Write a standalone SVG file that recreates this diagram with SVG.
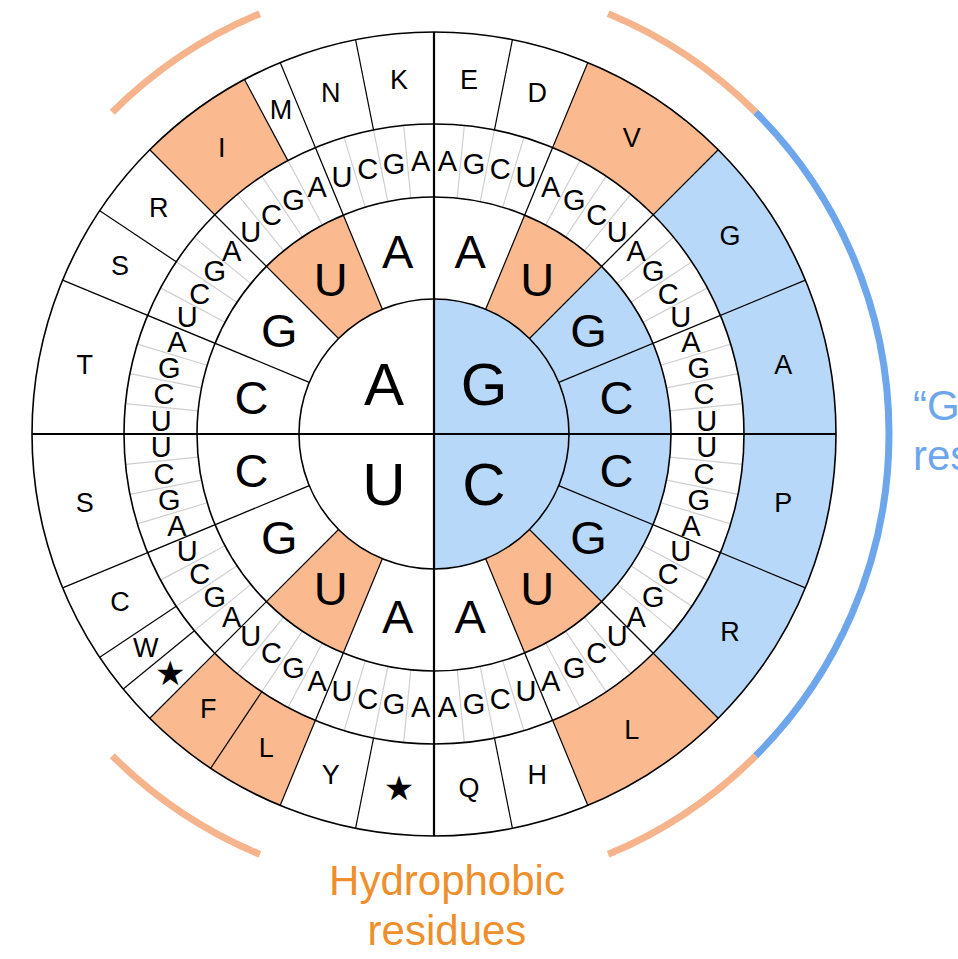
<svg xmlns="http://www.w3.org/2000/svg" width="958" height="959" viewBox="0 0 958 959">
<style>
text{font-family:"Liberation Sans",Arial,sans-serif;text-anchor:middle;dominant-baseline:central;fill:#000}
.c1{font-size:60px}.c2{font-size:47px}.t3{font-size:29px}.aa{font-size:27px}
.st{font-family:"DejaVu Sans",sans-serif;font-size:34px}
.ring{fill:none;stroke:#000;stroke-width:1.6}
.dash{fill:none}
.or{stroke:#FAB98E}.bl{stroke:#B8D8FA}
.arcO{fill:none;stroke:#F6B48C;stroke-width:7}.arcB{fill:none;stroke:#6EA6EC;stroke-width:7}
.ln{stroke:#000;stroke-width:1.2}
.lab{font-size:42px}
</style>
<rect width="958" height="959" fill="#fff"/>
<g id="outer-arcs">
<circle class="arcO" cx="434" cy="434" r="455" pathLength="360" stroke-dasharray="22.5 400" transform="rotate(-135 434 434)"/>
<circle class="arcO" cx="434" cy="434" r="455" pathLength="360" stroke-dasharray="22.5 400" transform="rotate(-67.5 434 434)"/>
<circle class="arcO" cx="434" cy="434" r="455" pathLength="360" stroke-dasharray="22.5 400" transform="rotate(45 434 434)"/>
<circle class="arcO" cx="434" cy="434" r="455" pathLength="360" stroke-dasharray="22.5 400" transform="rotate(112.5 434 434)"/>
<circle class="arcB" cx="434" cy="434" r="455" pathLength="360" stroke-dasharray="90 400" transform="rotate(-45 434 434)"/>
</g>
<g id="fills">
<circle cx="434" cy="434" r="402" fill="#fff"/>
<path d="M434,299 A135,135 0 0 1 434,569 Z" fill="#B8D8FA"/>
<circle class="dash bl" cx="434" cy="434" r="186" stroke-width="102" pathLength="360" stroke-dasharray="90 400" transform="rotate(-45 434 434)"/>
<circle class="dash or" cx="434" cy="434" r="186" stroke-width="102" pathLength="360" stroke-dasharray="22.5 400" transform="rotate(-67.5 434 434)"/>
<circle class="dash or" cx="434" cy="434" r="186" stroke-width="102" pathLength="360" stroke-dasharray="22.5 400" transform="rotate(45 434 434)"/>
<circle class="dash or" cx="434" cy="434" r="186" stroke-width="102" pathLength="360" stroke-dasharray="22.5 400" transform="rotate(112.5 434 434)"/>
<circle class="dash or" cx="434" cy="434" r="186" stroke-width="102" pathLength="360" stroke-dasharray="22.5 400" transform="rotate(225 434 434)"/>
<circle class="dash bl" cx="434" cy="434" r="356" stroke-width="92" pathLength="360" stroke-dasharray="90 400" transform="rotate(-45 434 434)"/>
<circle class="dash or" cx="434" cy="434" r="356" stroke-width="92" pathLength="360" stroke-dasharray="22.5 400" transform="rotate(-67.5 434 434)"/>
<circle class="dash or" cx="434" cy="434" r="356" stroke-width="92" pathLength="360" stroke-dasharray="22.5 400" transform="rotate(45 434 434)"/>
<circle class="dash or" cx="434" cy="434" r="356" stroke-width="92" pathLength="360" stroke-dasharray="22.5 400" transform="rotate(112.5 434 434)"/>
<circle class="dash or" cx="434" cy="434" r="356" stroke-width="92" pathLength="360" stroke-dasharray="16.875 400" transform="rotate(225 434 434)"/>
<circle class="dash" cx="434" cy="434" r="273.5" stroke="#cfcfcf" stroke-width="73" pathLength="360" stroke-dasharray="0.25 5.375" stroke-dashoffset="0.125"/>
</g>
<g id="connectors">
<circle class="ring" cx="434" cy="434" r="135"/>
<circle class="ring" cx="434" cy="434" r="237"/>
<circle class="ring" cx="434" cy="434" r="310"/>
<circle class="ring" cx="434" cy="434" r="402" stroke-width="2"/>
<line x1="32" y1="434" x2="836" y2="434" stroke="#000" stroke-width="2.2"/>
<line x1="434" y1="32" x2="434" y2="836" stroke="#000" stroke-width="2.2"/>
<g class="ln">
<line x1="569" y1="434" x2="836" y2="434" transform="rotate(22.5 434 434)"/>
<line x1="569" y1="434" x2="836" y2="434" transform="rotate(45 434 434)"/>
<line x1="569" y1="434" x2="836" y2="434" transform="rotate(67.5 434 434)"/>
<line x1="569" y1="434" x2="836" y2="434" transform="rotate(112.5 434 434)"/>
<line x1="569" y1="434" x2="836" y2="434" transform="rotate(135 434 434)"/>
<line x1="569" y1="434" x2="836" y2="434" transform="rotate(157.5 434 434)"/>
<line x1="569" y1="434" x2="836" y2="434" transform="rotate(202.5 434 434)"/>
<line x1="569" y1="434" x2="836" y2="434" transform="rotate(225 434 434)"/>
<line x1="569" y1="434" x2="836" y2="434" transform="rotate(247.5 434 434)"/>
<line x1="569" y1="434" x2="836" y2="434" transform="rotate(292.5 434 434)"/>
<line x1="569" y1="434" x2="836" y2="434" transform="rotate(315 434 434)"/>
<line x1="569" y1="434" x2="836" y2="434" transform="rotate(337.5 434 434)"/>
<line x1="744" y1="434" x2="836" y2="434" transform="rotate(-78.75 434 434)"/>
<line x1="744" y1="434" x2="836" y2="434" transform="rotate(78.75 434 434)"/>
<line x1="744" y1="434" x2="836" y2="434" transform="rotate(101.25 434 434)"/>
<line x1="744" y1="434" x2="836" y2="434" transform="rotate(123.75 434 434)"/>
<line x1="744" y1="434" x2="836" y2="434" transform="rotate(140.625 434 434)"/>
<line x1="744" y1="434" x2="836" y2="434" transform="rotate(146.25 434 434)"/>
<line x1="744" y1="434" x2="836" y2="434" transform="rotate(213.75 434 434)"/>
<line x1="744" y1="434" x2="836" y2="434" transform="rotate(241.875 434 434)"/>
<line x1="744" y1="434" x2="836" y2="434" transform="rotate(258.75 434 434)"/>
</g>
</g>
<g id="first-base">
<text class="c1" x="384" y="384">A</text>
<text class="c1" x="484" y="384">G</text>
<text class="c1" x="384" y="484">U</text>
<text class="c1" x="484" y="484">C</text>
</g>
<g id="second-base">
<g transform="rotate(11.25 434 434)"><text class="c2" x="620" y="434" transform="rotate(-11.25 620 434)">C</text></g>
<g transform="rotate(33.75 434 434)"><text class="c2" x="620" y="434" transform="rotate(-33.75 620 434)">G</text></g>
<g transform="rotate(56.25 434 434)"><text class="c2" x="620" y="434" transform="rotate(-56.25 620 434)">U</text></g>
<g transform="rotate(78.75 434 434)"><text class="c2" x="620" y="434" transform="rotate(-78.75 620 434)">A</text></g>
<g transform="rotate(101.25 434 434)"><text class="c2" x="620" y="434" transform="rotate(-101.25 620 434)">A</text></g>
<g transform="rotate(123.75 434 434)"><text class="c2" x="620" y="434" transform="rotate(-123.75 620 434)">U</text></g>
<g transform="rotate(146.25 434 434)"><text class="c2" x="620" y="434" transform="rotate(-146.25 620 434)">G</text></g>
<g transform="rotate(168.75 434 434)"><text class="c2" x="620" y="434" transform="rotate(-168.75 620 434)">C</text></g>
<g transform="rotate(191.25 434 434)"><text class="c2" x="620" y="434" transform="rotate(-191.25 620 434)">C</text></g>
<g transform="rotate(213.75 434 434)"><text class="c2" x="620" y="434" transform="rotate(-213.75 620 434)">G</text></g>
<g transform="rotate(236.25 434 434)"><text class="c2" x="620" y="434" transform="rotate(-236.25 620 434)">U</text></g>
<g transform="rotate(258.75 434 434)"><text class="c2" x="620" y="434" transform="rotate(-258.75 620 434)">A</text></g>
<g transform="rotate(281.25 434 434)"><text class="c2" x="620" y="434" transform="rotate(-281.25 620 434)">A</text></g>
<g transform="rotate(303.75 434 434)"><text class="c2" x="620" y="434" transform="rotate(-303.75 620 434)">U</text></g>
<g transform="rotate(326.25 434 434)"><text class="c2" x="620" y="434" transform="rotate(-326.25 620 434)">G</text></g>
<g transform="rotate(348.75 434 434)"><text class="c2" x="620" y="434" transform="rotate(-348.75 620 434)">C</text></g>
</g>
<g id="third-base">
<g transform="rotate(2.8125 434 434)"><text class="t3" x="707" y="434" transform="rotate(-2.8125 707 434)">U</text></g>
<g transform="rotate(8.4375 434 434)"><text class="t3" x="707" y="434" transform="rotate(-8.4375 707 434)">C</text></g>
<g transform="rotate(14.0625 434 434)"><text class="t3" x="707" y="434" transform="rotate(-14.0625 707 434)">G</text></g>
<g transform="rotate(19.6875 434 434)"><text class="t3" x="707" y="434" transform="rotate(-19.6875 707 434)">A</text></g>
<g transform="rotate(25.3125 434 434)"><text class="t3" x="707" y="434" transform="rotate(-25.3125 707 434)">U</text></g>
<g transform="rotate(30.9375 434 434)"><text class="t3" x="707" y="434" transform="rotate(-30.9375 707 434)">C</text></g>
<g transform="rotate(36.5625 434 434)"><text class="t3" x="707" y="434" transform="rotate(-36.5625 707 434)">G</text></g>
<g transform="rotate(42.1875 434 434)"><text class="t3" x="707" y="434" transform="rotate(-42.1875 707 434)">A</text></g>
<g transform="rotate(47.8125 434 434)"><text class="t3" x="707" y="434" transform="rotate(-47.8125 707 434)">U</text></g>
<g transform="rotate(53.4375 434 434)"><text class="t3" x="707" y="434" transform="rotate(-53.4375 707 434)">C</text></g>
<g transform="rotate(59.0625 434 434)"><text class="t3" x="707" y="434" transform="rotate(-59.0625 707 434)">G</text></g>
<g transform="rotate(64.6875 434 434)"><text class="t3" x="707" y="434" transform="rotate(-64.6875 707 434)">A</text></g>
<g transform="rotate(70.3125 434 434)"><text class="t3" x="707" y="434" transform="rotate(-70.3125 707 434)">U</text></g>
<g transform="rotate(75.9375 434 434)"><text class="t3" x="707" y="434" transform="rotate(-75.9375 707 434)">C</text></g>
<g transform="rotate(81.5625 434 434)"><text class="t3" x="707" y="434" transform="rotate(-81.5625 707 434)">G</text></g>
<g transform="rotate(87.1875 434 434)"><text class="t3" x="707" y="434" transform="rotate(-87.1875 707 434)">A</text></g>
<g transform="rotate(92.8125 434 434)"><text class="t3" x="707" y="434" transform="rotate(-92.8125 707 434)">A</text></g>
<g transform="rotate(98.4375 434 434)"><text class="t3" x="707" y="434" transform="rotate(-98.4375 707 434)">G</text></g>
<g transform="rotate(104.0625 434 434)"><text class="t3" x="707" y="434" transform="rotate(-104.0625 707 434)">C</text></g>
<g transform="rotate(109.6875 434 434)"><text class="t3" x="707" y="434" transform="rotate(-109.6875 707 434)">U</text></g>
<g transform="rotate(115.3125 434 434)"><text class="t3" x="707" y="434" transform="rotate(-115.3125 707 434)">A</text></g>
<g transform="rotate(120.9375 434 434)"><text class="t3" x="707" y="434" transform="rotate(-120.9375 707 434)">G</text></g>
<g transform="rotate(126.5625 434 434)"><text class="t3" x="707" y="434" transform="rotate(-126.5625 707 434)">C</text></g>
<g transform="rotate(132.1875 434 434)"><text class="t3" x="707" y="434" transform="rotate(-132.1875 707 434)">U</text></g>
<g transform="rotate(137.8125 434 434)"><text class="t3" x="707" y="434" transform="rotate(-137.8125 707 434)">A</text></g>
<g transform="rotate(143.4375 434 434)"><text class="t3" x="707" y="434" transform="rotate(-143.4375 707 434)">G</text></g>
<g transform="rotate(149.0625 434 434)"><text class="t3" x="707" y="434" transform="rotate(-149.0625 707 434)">C</text></g>
<g transform="rotate(154.6875 434 434)"><text class="t3" x="707" y="434" transform="rotate(-154.6875 707 434)">U</text></g>
<g transform="rotate(160.3125 434 434)"><text class="t3" x="707" y="434" transform="rotate(-160.3125 707 434)">A</text></g>
<g transform="rotate(165.9375 434 434)"><text class="t3" x="707" y="434" transform="rotate(-165.9375 707 434)">G</text></g>
<g transform="rotate(171.5625 434 434)"><text class="t3" x="707" y="434" transform="rotate(-171.5625 707 434)">C</text></g>
<g transform="rotate(177.1875 434 434)"><text class="t3" x="707" y="434" transform="rotate(-177.1875 707 434)">U</text></g>
<g transform="rotate(182.8125 434 434)"><text class="t3" x="707" y="434" transform="rotate(-182.8125 707 434)">U</text></g>
<g transform="rotate(188.4375 434 434)"><text class="t3" x="707" y="434" transform="rotate(-188.4375 707 434)">C</text></g>
<g transform="rotate(194.0625 434 434)"><text class="t3" x="707" y="434" transform="rotate(-194.0625 707 434)">G</text></g>
<g transform="rotate(199.6875 434 434)"><text class="t3" x="707" y="434" transform="rotate(-199.6875 707 434)">A</text></g>
<g transform="rotate(205.3125 434 434)"><text class="t3" x="707" y="434" transform="rotate(-205.3125 707 434)">U</text></g>
<g transform="rotate(210.9375 434 434)"><text class="t3" x="707" y="434" transform="rotate(-210.9375 707 434)">C</text></g>
<g transform="rotate(216.5625 434 434)"><text class="t3" x="707" y="434" transform="rotate(-216.5625 707 434)">G</text></g>
<g transform="rotate(222.1875 434 434)"><text class="t3" x="707" y="434" transform="rotate(-222.1875 707 434)">A</text></g>
<g transform="rotate(227.8125 434 434)"><text class="t3" x="707" y="434" transform="rotate(-227.8125 707 434)">U</text></g>
<g transform="rotate(233.4375 434 434)"><text class="t3" x="707" y="434" transform="rotate(-233.4375 707 434)">C</text></g>
<g transform="rotate(239.0625 434 434)"><text class="t3" x="707" y="434" transform="rotate(-239.0625 707 434)">G</text></g>
<g transform="rotate(244.6875 434 434)"><text class="t3" x="707" y="434" transform="rotate(-244.6875 707 434)">A</text></g>
<g transform="rotate(250.3125 434 434)"><text class="t3" x="707" y="434" transform="rotate(-250.3125 707 434)">U</text></g>
<g transform="rotate(255.9375 434 434)"><text class="t3" x="707" y="434" transform="rotate(-255.9375 707 434)">C</text></g>
<g transform="rotate(261.5625 434 434)"><text class="t3" x="707" y="434" transform="rotate(-261.5625 707 434)">G</text></g>
<g transform="rotate(267.1875 434 434)"><text class="t3" x="707" y="434" transform="rotate(-267.1875 707 434)">A</text></g>
<g transform="rotate(272.8125 434 434)"><text class="t3" x="707" y="434" transform="rotate(-272.8125 707 434)">A</text></g>
<g transform="rotate(278.4375 434 434)"><text class="t3" x="707" y="434" transform="rotate(-278.4375 707 434)">G</text></g>
<g transform="rotate(284.0625 434 434)"><text class="t3" x="707" y="434" transform="rotate(-284.0625 707 434)">C</text></g>
<g transform="rotate(289.6875 434 434)"><text class="t3" x="707" y="434" transform="rotate(-289.6875 707 434)">U</text></g>
<g transform="rotate(295.3125 434 434)"><text class="t3" x="707" y="434" transform="rotate(-295.3125 707 434)">A</text></g>
<g transform="rotate(300.9375 434 434)"><text class="t3" x="707" y="434" transform="rotate(-300.9375 707 434)">G</text></g>
<g transform="rotate(306.5625 434 434)"><text class="t3" x="707" y="434" transform="rotate(-306.5625 707 434)">C</text></g>
<g transform="rotate(312.1875 434 434)"><text class="t3" x="707" y="434" transform="rotate(-312.1875 707 434)">U</text></g>
<g transform="rotate(317.8125 434 434)"><text class="t3" x="707" y="434" transform="rotate(-317.8125 707 434)">A</text></g>
<g transform="rotate(323.4375 434 434)"><text class="t3" x="707" y="434" transform="rotate(-323.4375 707 434)">G</text></g>
<g transform="rotate(329.0625 434 434)"><text class="t3" x="707" y="434" transform="rotate(-329.0625 707 434)">C</text></g>
<g transform="rotate(334.6875 434 434)"><text class="t3" x="707" y="434" transform="rotate(-334.6875 707 434)">U</text></g>
<g transform="rotate(340.3125 434 434)"><text class="t3" x="707" y="434" transform="rotate(-340.3125 707 434)">A</text></g>
<g transform="rotate(345.9375 434 434)"><text class="t3" x="707" y="434" transform="rotate(-345.9375 707 434)">G</text></g>
<g transform="rotate(351.5625 434 434)"><text class="t3" x="707" y="434" transform="rotate(-351.5625 707 434)">C</text></g>
<g transform="rotate(357.1875 434 434)"><text class="t3" x="707" y="434" transform="rotate(-357.1875 707 434)">U</text></g>
</g>
<g id="amino-acids">
<g transform="rotate(-84.375 434 434)"><text class="aa" x="790" y="434" transform="rotate(84.375 790 434)">E</text></g>
<g transform="rotate(-73.125 434 434)"><text class="aa" x="790" y="434" transform="rotate(73.125 790 434)">D</text></g>
<g transform="rotate(-56.25 434 434)"><text class="aa" x="790" y="434" transform="rotate(56.25 790 434)">V</text></g>
<g transform="rotate(-33.75 434 434)"><text class="aa" x="790" y="434" transform="rotate(33.75 790 434)">G</text></g>
<g transform="rotate(-11.25 434 434)"><text class="aa" x="790" y="434" transform="rotate(11.25 790 434)">A</text></g>
<g transform="rotate(11.25 434 434)"><text class="aa" x="790" y="434" transform="rotate(-11.25 790 434)">P</text></g>
<g transform="rotate(33.75 434 434)"><text class="aa" x="790" y="434" transform="rotate(-33.75 790 434)">R</text></g>
<g transform="rotate(56.25 434 434)"><text class="aa" x="790" y="434" transform="rotate(-56.25 790 434)">L</text></g>
<g transform="rotate(73.125 434 434)"><text class="aa" x="790" y="434" transform="rotate(-73.125 790 434)">H</text></g>
<g transform="rotate(84.375 434 434)"><text class="aa" x="790" y="434" transform="rotate(-84.375 790 434)">Q</text></g>
<g transform="rotate(95.625 434 434)"><text class="st" x="790" y="434" transform="rotate(-95.625 790 434)">★</text></g>
<g transform="rotate(106.875 434 434)"><text class="aa" x="790" y="434" transform="rotate(-106.875 790 434)">Y</text></g>
<g transform="rotate(118.125 434 434)"><text class="aa" x="790" y="434" transform="rotate(-118.125 790 434)">L</text></g>
<g transform="rotate(129.375 434 434)"><text class="aa" x="790" y="434" transform="rotate(-129.375 790 434)">F</text></g>
<g transform="rotate(137.8 434 434)"><text class="st" x="790" y="434" transform="rotate(-137.8 790 434)">★</text></g>
<g transform="rotate(143.4 434 434)"><text class="aa" x="793" y="434" transform="rotate(-143.4 793 434)">W</text></g>
<g transform="rotate(151.875 434 434)"><text class="aa" x="790" y="434" transform="rotate(-151.875 790 434)">C</text></g>
<g transform="rotate(168.75 434 434)"><text class="aa" x="790" y="434" transform="rotate(-168.75 790 434)">S</text></g>
<g transform="rotate(191.25 434 434)"><text class="aa" x="790" y="434" transform="rotate(-191.25 790 434)">T</text></g>
<g transform="rotate(208.125 434 434)"><text class="aa" x="790" y="434" transform="rotate(-208.125 790 434)">S</text></g>
<g transform="rotate(219.375 434 434)"><text class="aa" x="790" y="434" transform="rotate(-219.375 790 434)">R</text></g>
<g transform="rotate(233.4 434 434)"><text class="aa" x="790" y="434" transform="rotate(-233.4 790 434)">I</text></g>
<g transform="rotate(244.7 434 434)"><text class="aa" x="792" y="434" transform="rotate(-244.7 792 434)">M</text></g>
<g transform="rotate(253.125 434 434)"><text class="aa" x="790" y="434" transform="rotate(-253.125 790 434)">N</text></g>
<g transform="rotate(264.375 434 434)"><text class="aa" x="790" y="434" transform="rotate(-264.375 790 434)">K</text></g>
</g>
<g id="labels">
<text class="lab" x="447" y="880" style="fill:#EF8F2B">Hydrophobic</text>
<text class="lab" x="447" y="930" style="fill:#EF8F2B">residues</text>
<text class="lab" x="913" y="405" style="fill:#6EA6EC;text-anchor:start">“G</text>
<text class="lab" x="913" y="455" style="fill:#6EA6EC;text-anchor:start">res</text>
</g>
</svg>
